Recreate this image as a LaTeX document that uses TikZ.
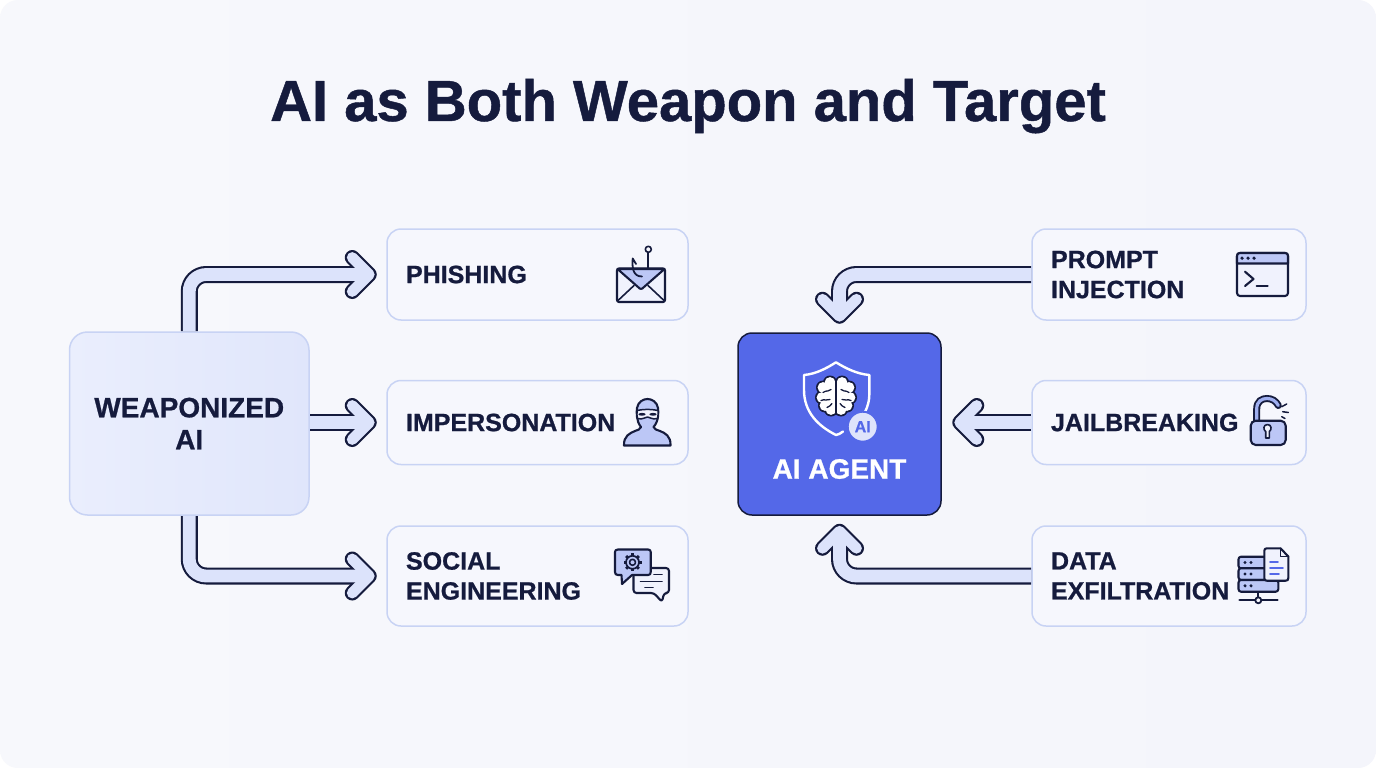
\documentclass[tikz,border=0pt]{standalone}
\usepackage{fontspec}
\setmainfont{Liberation Sans}[BoldFeatures={FakeBold=0.8}]
\usetikzlibrary{calc,backgrounds}
\definecolor{ink}{HTML}{151B3D}
\definecolor{pri}{HTML}{5468E8}
\definecolor{bord}{HTML}{C8D3F4}
\definecolor{itemfill}{HTML}{F6F7FD}
\definecolor{arrowfill}{HTML}{DCE3FB}
\definecolor{iconfill}{HTML}{BCC7F6}
\definecolor{iconpale}{HTML}{F0F2FD}
\definecolor{boxa}{HTML}{EAEEFD}
\definecolor{boxb}{HTML}{E0E6FB}
\definecolor{bga}{HTML}{F7F8FC}
\definecolor{bgb}{HTML}{F4F5FB}
\definecolor{badgefill}{HTML}{DFE4FB}
\definecolor{shackle}{HTML}{9FAFF0}
\tikzset{
  itembox/.style={draw=bord,line width=1.5pt,fill=itemfill,rounded corners=14pt,inner xsep=19pt,inner ysep=0pt,
    align=left,text=ink,font=\fontsize{25}{30}\selectfont\bfseries},
  leftitem/.style={itembox,text width=263pt,minimum width=301pt},
  rightitem/.style={itembox,text width=236pt,minimum width=274pt},
  shaftdark/.style={draw=ink,line width=17pt,rounded corners=17pt},
  shaftlight/.style={draw=arrowfill,line width=12.8pt,rounded corners=17pt},
  headdark/.style={draw=ink,line width=15pt,line cap=round,line join=round},
  headlight/.style={draw=arrowfill,line width=10.8pt,line cap=round,line join=round},
  icon/.style={draw=ink,line width=2.1pt,line cap=round,line join=round},
}
\newcommand\fatarrow[2]{%
  \draw[shaftdark] #1; \draw[headdark] #2; \draw[shaftlight] #1; \draw[headlight] #2;}
\begin{document}
\begin{tikzpicture}[x=1pt,y=-1pt]
\useasboundingbox (0,0) rectangle (1376,768);
\node[font=\fontsize{58}{64}\selectfont\bfseries,text=ink,inner sep=0pt,anchor=base] (title) at (688,121) {AI as Both Weapon and Target};

\node[draw=bord,line width=1.5pt,left color=boxa,right color=boxb,rounded corners=18pt,minimum width=239.5pt,minimum height=183pt,inner sep=0pt,
  align=center,text=ink,font=\fontsize{28}{32}\selectfont\bfseries] (wa) at (189.25,423.5) {WEAPONIZED\\AI};
\node[leftitem,minimum height=91pt] (phishing) at (537.5,274.5) {PHISHING};
\node[leftitem,minimum height=84pt] (imperson) at (537.5,422.5) {IMPERSONATION};
\node[leftitem,minimum height=100pt] (social) at (537.5,576) {SOCIAL\\ENGINEERING};
\node[rightitem,minimum height=91pt] (prompt) at (1169,274.5) {PROMPT\\INJECTION};
\node[rightitem,minimum height=84pt] (jail) at (1169,422.5) {JAILBREAKING};
\node[rightitem,minimum height=100pt] (exfil) at (1169,576) {DATA\\EXFILTRATION};
\node[draw=ink,line width=1.5pt,fill=pri,rounded corners=14pt,minimum width=203pt,minimum height=182pt,inner sep=0pt] (agent) at (839.5,424) {};
\node[text=white,font=\fontsize{28}{32}\selectfont\bfseries,inner sep=0pt] (agentlabel) at (839.5,469) {AI AGENT};

% arrow ends
\coordinate (e1) at ($(phishing.west)+(-21,0)$);
\coordinate (t1) at ($(phishing.west)+(-17,0)$);
\coordinate (e2) at ($(imperson.west)+(-21,0)$);
\coordinate (t2) at ($(imperson.west)+(-17,0)$);
\coordinate (e3) at ($(social.west)+(-21,0)$);
\coordinate (t3) at ($(social.west)+(-17,0)$);
\coordinate (e4) at ($(agent.north)+(0,-20)$);
\coordinate (t4) at ($(agent.north)+(0,-16)$);
\coordinate (e5) at ($(agent.east)+(22,-1.5)$);
\coordinate (t5) at ($(agent.east)+(18,-1.5)$);
\coordinate (e6) at ($(agent.south)+(0,19.5)$);
\coordinate (t6) at ($(agent.south)+(0,15.5)$);

\begin{pgfonlayer}{background}
\fill[white] (0,0) rectangle (1376,768);
\shade[left color=bga,right color=bgb,rounded corners=18pt] (0,0) rectangle (1376,768);
\fatarrow{(wa.north) |- (e1)}{($(t1)+(-17,-17)$) -- (t1) -- ($(t1)+(-17,17)$)}
\fatarrow{(wa.east |- imperson.west) -- (e2)}{($(t2)+(-17,-17)$) -- (t2) -- ($(t2)+(-17,17)$)}
\fatarrow{(wa.south) |- (e3)}{($(t3)+(-17,-17)$) -- (t3) -- ($(t3)+(-17,17)$)}
\fatarrow{(prompt.west) -| (e4)}{($(t4)+(-17,-17)$) -- (t4) -- ($(t4)+(17,-17)$)}
\fatarrow{(jail.west) -- (e5)}{($(t5)+(17,-17)$) -- (t5) -- ($(t5)+(17,17)$)}
\fatarrow{(exfil.west) -| (e6)}{($(t6)+(-17,17)$) -- (t6) -- ($(t6)+(17,17)$)}
\end{pgfonlayer}

% envelope + hook
\draw[icon,fill=iconpale,rounded corners=2pt] (617,268.5) rectangle (665,302);
\draw[icon,fill=iconfill] (617.5,269) -- (638,287) .. controls (640,289.5) and (642,289.5) .. (644,287) -- (664.5,269) -- cycle;
\draw[icon,line width=1.6pt] (618,300.5) -- (634,285.5) (664,300.5) -- (648,285.5);
\draw[icon,line width=1.8pt] (648.3,268) -- (648.3,252.5);
\draw[icon,line width=1.6pt,fill=itemfill] (648.3,249.3) circle (3);
\draw[icon,line width=1.8pt] (636,264) -- (632.7,258.5) .. controls (632,268) and (633,276.5) .. (642,276.5);

% masked figure
\draw[icon,fill=iconfill] (624,445.5) .. controls (623.5,436) and (630,433) .. (635,431) .. controls (638,430) and (640,429.5) .. (641,427) .. controls (636,421) and (636.5,412) .. (637,408) .. controls (638,402) and (643,399) .. (647.5,399) .. controls (652,399) and (657,402) .. (658,408) .. controls (658.5,412) and (659,421) .. (653.5,427) .. controls (654.5,429.5) and (657,430) .. (660,431) .. controls (665,433) and (671,436) .. (670.5,445.5) -- cycle;
\draw[icon,line width=1.5pt,fill=iconpale] (637,410.5) .. controls (645,409) and (650,409) .. (658,410.5) .. controls (658.3,414) and (658,416) .. (657.5,418.5) .. controls (652,420) and (650,417) .. (647.5,417) .. controls (645,417) and (643,420) .. (637.5,418.5) .. controls (637,416) and (636.8,414) .. (637,410.5) -- cycle;
\fill[ink] (642,414.3) ellipse (3.6 and 1.4);
\fill[ink] (653,414.3) ellipse (3.6 and 1.4);

% chat bubbles
\draw[icon,fill=iconpale,rounded corners=3pt] (633.5,568) -- (669,568) -- (669,593) -- (664,593) -- (662,602) -- (654,593) -- (633.5,593) -- cycle;
\draw[icon,fill=iconfill] (618,549.5) -- (648,549.5) .. controls (650,549.5) and (650.7,550.5) .. (650.7,552) -- (650.7,572) .. controls (650.7,574) and (650,575) .. (648,575) -- (632,575) -- (622,584) -- (621.5,575) -- (618,575) .. controls (616,575) and (615,574) .. (615,572) -- (615,552) .. controls (615,550.5) and (616,549.5) .. (618,549.5) -- cycle;
\begin{scope}[shift={(632.5,562.3)}]
\draw[icon,line width=1.7pt] (0,0) circle (6.5);
\foreach \a in {0,45,...,315}{\draw[icon,line width=2.8pt,line cap=butt] (\a:6) -- (\a:9);}
\draw[icon,line width=1.6pt,fill=iconfill] (0,0) circle (3);
\end{scope}
\draw[icon,line width=1.9pt] (654,574.5) -- (662,574.5) (640.5,581.5) -- (662,581.5) (645,587.5) -- (653,587.5);

% shield
\draw[white,line width=2.4pt,line cap=round,line join=round] (843,431.5) .. controls (841,433) and (838,435) .. (836,435) .. controls (818,426) and (804,412) .. (804,390) -- (804,375) .. controls (816,374) and (827,368) .. (836,362.3) .. controls (845,368) and (857,374) .. (869.3,375) -- (869.3,395) .. controls (869.3,400) and (868,406) .. (865,412);
% brain
\begin{scope}[shift={(836,396.5)}]
\foreach \p/\r in {-6/-14,6/-14,-13/-9,13/-9,-14/1,14/1,-11/9,11/9,-5/13,5/13}{\fill[ink] (\p,\r) circle (7);}
\foreach \p/\r in {-6/-14,6/-14,-13/-9,13/-9,-14/1,14/1,-11/9,11/9,-5/13,5/13}{\fill[white] (\p,\r) circle (5.4);}
\fill[white] (0,0) circle (14);
\draw[icon,line width=1.5pt] (0,-17) -- (0,18);
\draw[icon,line width=1.3pt] (-13,-4) .. controls (-9,-7) and (-7,-4) .. (-5,-7) (-15,4) .. controls (-11,2) and (-9,5) .. (-6,3) (-9,11) .. controls (-7,9) and (-5,10) .. (-4,7) (13,-4) .. controls (9,-7) and (7,-4) .. (5,-7) (15,4) .. controls (11,2) and (9,5) .. (6,3) (9,11) .. controls (7,9) and (5,10) .. (4,7);
\end{scope}
\node[circle,draw=pri,line width=2pt,fill=badgefill,minimum size=30pt,inner sep=0pt,text=pri,font=\fontsize{16}{18}\selectfont\bfseries] (badge) at (862.7,426.7) {AI};

% terminal
\draw[icon,fill=iconpale,rounded corners=3pt] (1237,253) rectangle (1288,296);
\draw[icon,fill=iconfill] (1237,263.5) -- (1237,256) .. controls (1237,254) and (1238,253) .. (1240,253) -- (1285,253) .. controls (1287,253) and (1288,254) .. (1288,256) -- (1288,263.5) -- cycle;
\foreach \x in {1242,1248,1254}{\fill[ink] (\x,258.2) circle (1.8);}
\draw[icon] (1245,271.7) -- (1253.5,279) -- (1245,286);
\draw[icon] (1256.7,286) -- (1267.7,286);

% open lock
\draw[ink,line width=7pt,line cap=round] (1256.7,422) -- (1256.7,409) .. controls (1256.7,401) and (1262,398.5) .. (1267,398.5) .. controls (1272,398.5) and (1276,401) .. (1278.3,405.5);
\draw[draw=shackle,line width=3.2pt,line cap=round] (1256.7,422) -- (1256.7,409) .. controls (1256.7,401) and (1262,398.5) .. (1267,398.5) .. controls (1272,398.5) and (1276,401) .. (1278.3,405.5);
\draw[icon,fill=iconfill,rounded corners=5pt] (1250.7,420.7) rectangle (1285.7,445);
\draw[icon,line width=1.6pt,fill=iconpale] (1265.7,431.5) .. controls (1263,430) and (1263.2,424.5) .. (1267.5,424.5) .. controls (1271.7,424.5) and (1272,430) .. (1269.3,431.5) -- (1269.3,438) -- (1265.7,438) -- cycle;
\draw[icon,line width=1.5pt] (1281.7,406.7) -- (1286.7,404) (1282.7,411.7) -- (1288.3,412.5) (1281.7,416.7) -- (1285,418.5);

% server and document
\draw[icon] (1258.3,592) -- (1258.3,597) (1239.5,600.3) -- (1277.5,600.3);
\draw[icon,line width=1.8pt,fill=itemfill] (1258.3,600.3) circle (3);
\foreach \y in {556.7,568.2,580}{\draw[icon,fill=iconfill,rounded corners=2.5pt] (1238.5,\y) rectangle (1278.3,\y+11.7);
  \fill[ink] (1245,\y+5.8) circle (1.7); \fill[ink] (1251,\y+5.8) circle (1.7);}
\draw[icon,fill=iconpale] (1267,548.3) -- (1280.5,548.3) -- (1288.3,556.5) -- (1288.3,578) .. controls (1288.3,580) and (1287.5,580.7) .. (1285.5,580.7) -- (1267,580.7) .. controls (1265,580.7) and (1264.3,580) .. (1264.3,578) -- (1264.3,551) .. controls (1264.3,549) and (1265,548.3) .. (1267,548.3) -- cycle;
\draw[icon,line width=1.4pt] (1280.5,548.3) -- (1280.5,556.5) -- (1288.3,556.5);
\draw[draw=pri,line width=1.8pt,line cap=round] (1270,561.7) -- (1278,561.7) (1270,567.7) -- (1283,567.7) (1270,573.7) -- (1279,573.7);
\end{tikzpicture}
\end{document}
